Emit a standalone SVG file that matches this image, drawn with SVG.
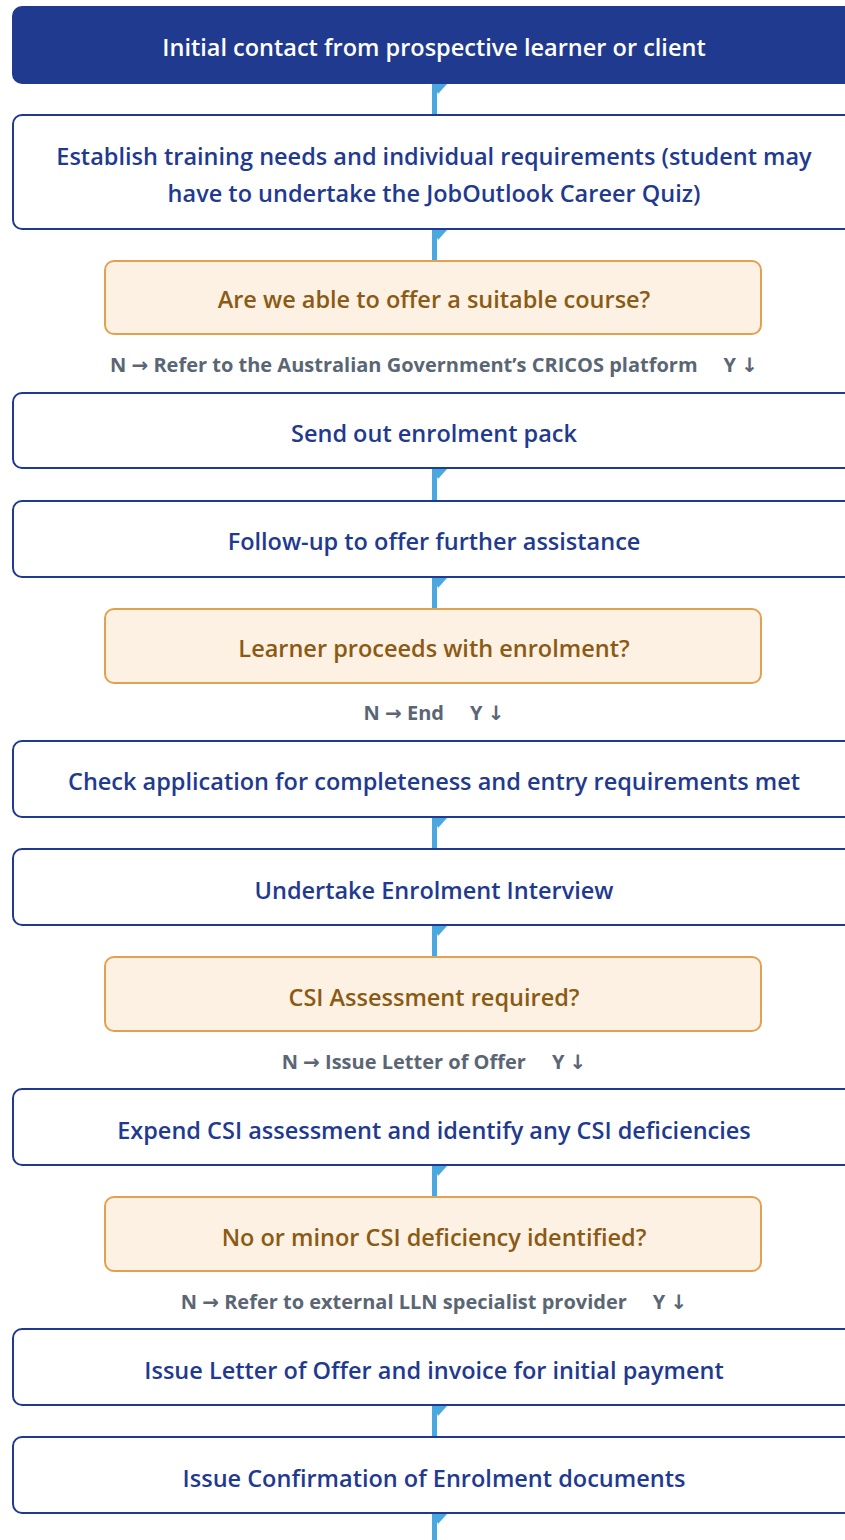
<svg xmlns="http://www.w3.org/2000/svg" width="845" height="1540" viewBox="0 0 845 1540">
<style>
.box{fill:#ffffff;stroke:#1f3a8f;stroke-width:2}
.start{fill:#1f3a8f;stroke:#1f3a8f;stroke-width:2}
.dec{fill:#fdf1e3;stroke:#e3a14f;stroke-width:2}
.t{font-family:"Open Sans","Noto Sans","DejaVu Sans",sans-serif;font-size:23.5px;font-weight:600;text-anchor:middle;dominant-baseline:central;fill:#1f3a8f}
.tw{fill:#ffffff}
.td{fill:#8b5a14}
.lab{font-family:"Open Sans","Noto Sans","DejaVu Sans",sans-serif;font-size:20px;font-weight:700;text-anchor:middle;dominant-baseline:central;fill:#5b6675}
.ln{fill:#4aa8de}
</style>
<rect width="845" height="1540" fill="#ffffff"/>
<g id="connectors">
<g id="c1"><rect class="ln" x="432" y="84" width="5" height="31"/><polygon class="ln" points="434,84 447,84 438,94"/></g>
<g id="c2"><rect class="ln" x="432" y="230" width="5" height="31"/><polygon class="ln" points="434,230 447,230 438,240"/></g>
<g id="c3"><rect class="ln" x="432" y="469" width="5" height="32"/><polygon class="ln" points="434,469 447,469 438,479"/></g>
<g id="c4"><rect class="ln" x="432" y="578" width="5" height="31"/><polygon class="ln" points="434,578 447,578 438,588"/></g>
<g id="c5"><rect class="ln" x="432" y="818" width="5" height="31"/><polygon class="ln" points="434,818 447,818 438,828"/></g>
<g id="c6"><rect class="ln" x="432" y="926" width="5" height="31"/><polygon class="ln" points="434,926 447,926 438,936"/></g>
<g id="c7"><rect class="ln" x="432" y="1166" width="5" height="31"/><polygon class="ln" points="434,1166 447,1166 438,1176"/></g>
<g id="c8"><rect class="ln" x="432" y="1406" width="5" height="31"/><polygon class="ln" points="434,1406 447,1406 438,1416"/></g>
<g id="c9"><rect class="ln" x="432" y="1514" width="5" height="30"/><polygon class="ln" points="434,1514 447,1514 438,1524"/></g>
</g>
<g id="n1"><rect class="start" x="13" y="7" width="845" height="76" rx="9"/><text class="t tw" x="434" y="47">Initial contact from prospective learner or client</text></g>
<g id="n2"><rect class="box" x="13" y="115" width="845" height="114" rx="9"/><text class="t" x="434" y="156">Establish training needs and individual requirements (student may</text><text class="t" x="434" y="193">have to undertake the JobOutlook Career Quiz)</text></g>
<g id="d1"><rect class="dec" x="105" y="261" width="656" height="73" rx="9"/><text class="t td" x="434" y="299">Are we able to offer a suitable course?</text></g>
<text class="lab" x="434" y="364">N → Refer to the Australian Government’s CRICOS platform<tspan dx="26">Y ↓</tspan></text>
<g id="n3"><rect class="box" x="13" y="393" width="845" height="75" rx="9"/><text class="t" x="434" y="433">Send out enrolment pack</text></g>
<g id="n4"><rect class="box" x="13" y="501" width="845" height="76" rx="9"/><text class="t" x="434" y="541">Follow-up to offer further assistance</text></g>
<g id="d2"><rect class="dec" x="105" y="609" width="656" height="74" rx="9"/><text class="t td" x="434" y="648">Learner proceeds with enrolment?</text></g>
<text class="lab" x="434" y="712">N → End<tspan dx="26">Y ↓</tspan></text>
<g id="n5"><rect class="box" x="13" y="741" width="845" height="76" rx="9"/><text class="t" x="434" y="781">Check application for completeness and entry requirements met</text></g>
<g id="n6"><rect class="box" x="13" y="849" width="845" height="76" rx="9"/><text class="t" x="434" y="890">Undertake Enrolment Interview</text></g>
<g id="d3"><rect class="dec" x="105" y="957" width="656" height="74" rx="9"/><text class="t td" x="434" y="997">CSI Assessment required?</text></g>
<text class="lab" x="434" y="1061">N → Issue Letter of Offer<tspan dx="26">Y ↓</tspan></text>
<g id="n7"><rect class="box" x="13" y="1089" width="845" height="76" rx="9"/><text class="t" x="434" y="1130">Expend CSI assessment and identify any CSI deficiencies</text></g>
<g id="d4"><rect class="dec" x="105" y="1197" width="656" height="74" rx="9"/><text class="t td" x="434" y="1237">No or minor CSI deficiency identified?</text></g>
<text class="lab" x="434" y="1301">N → Refer to external LLN specialist provider<tspan dx="26">Y ↓</tspan></text>
<g id="n8"><rect class="box" x="13" y="1329" width="845" height="76" rx="9"/><text class="t" x="434" y="1370">Issue Letter of Offer and invoice for initial payment</text></g>
<g id="n9"><rect class="box" x="13" y="1437" width="845" height="76" rx="9"/><text class="t" x="434" y="1478">Issue Confirmation of Enrolment documents</text></g>
</svg>
